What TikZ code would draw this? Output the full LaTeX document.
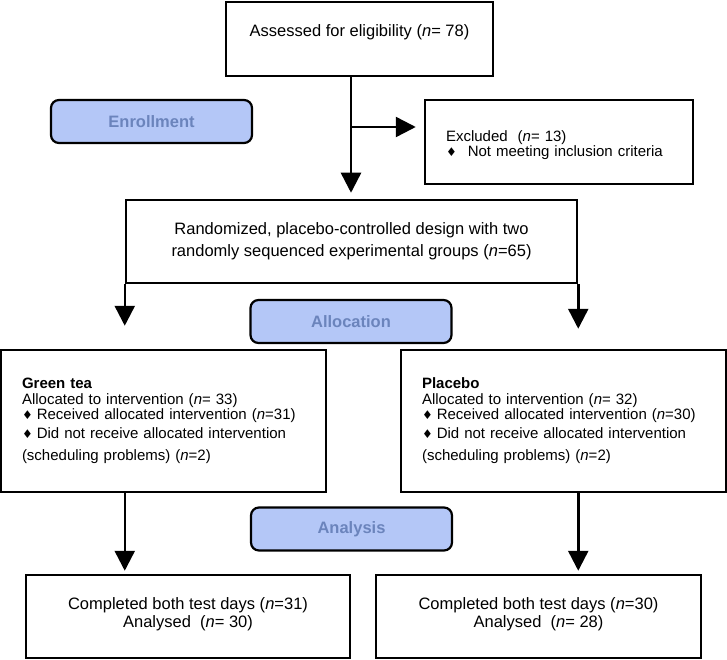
\documentclass[tikz,border=0pt]{standalone}
\usepackage{fontspec}
\setmainfont{Liberation Sans}
\newfontfamily\symfont{DejaVu Sans}
\usepackage{tikz}
\usetikzlibrary{arrows.meta,positioning}
\definecolor{stagefill}{HTML}{B4C7F7}
\definecolor{stagetext}{HTML}{6B84BC}
\newcommand{\dia}{{\symfont\fontsize{12}{12}\selectfont\char"2666}}
\newcommand{\nn}{\textit{n}}
\tikzset{
  box/.style={rectangle,draw=black,line width=2.5pt,inner sep=0pt,
    font=\fontsize{16.5}{22}\selectfont},
  listbox/.style args={#1,#2}{
    box,
    minimum width=#1pt,
    minimum height=#2pt,
    text width=#1pt-42pt,
    align=left,
    font=\fontsize{15}{16}\selectfont
  },
  stage/.style={rectangle,draw=black,line width=2.2pt,rounded corners=8pt,
    fill=stagefill,text=stagetext,font=\bfseries\fontsize{16.5}{18}\selectfont,
    minimum width=201pt,minimum height=43pt},
  ln/.style={line width=2.5pt},
  arr/.style={ln,-{Triangle[length=20pt,width=20pt]}}
}

\begin{document}
\begin{tikzpicture}[x=1pt,y=-1pt]
  \useasboundingbox (0,0) rectangle (727,660);

  % enrollment
  \node [box,minimum width=267pt,minimum height=74pt,text depth=16pt] (assess) at (359.5,39)
    {Assessed for eligibility (\nn= 78)};
  \node [stage] (enrol) at (151.5,121.5) {Enrollment};
  \node [listbox={268,84},font=\fontsize{15}{15}\selectfont,text depth=12pt] (excl) at (559,142)
    {Excluded\ \ (\nn= 13)\\ \dia\hspace{11pt}Not meeting inclusion criteria};
  \node [box,minimum width=451pt,minimum height=83pt,align=center] (random) at (351.5,241.5)
    {Randomized, placebo-controlled design with two\\ randomly sequenced experimental groups (\nn=65)};

  % allocation
  \node [stage] (alloc) at (351,321.5) {Allocation};
  \node [listbox={325,142}] (green) at (163.5,421)
    {\textbf{Green tea}\\ Allocated to intervention (\nn= 33)\\[-1pt]
     \dia\hspace{4pt}Received allocated intervention (\nn=31)\\[3pt]
     \dia\hspace{4pt}Did not receive allocated intervention\\[6pt]
     (scheduling problems) (\nn=2)};
  \node [listbox={325,142}] (plac) at (563.5,421)
    {\textbf{Placebo}\\ Allocated to intervention (\nn= 32)\\[-1pt]
     \dia\hspace{4pt}Received allocated intervention (\nn=30)\\[3pt]
     \dia\hspace{4pt}Did not receive allocated intervention\\[6pt]
     (scheduling problems) (\nn=2)};

  % analysis
  \node [stage] (analys) at (351.5,529) {Analysis};
  \node [box,minimum width=324pt,minimum height=83pt,align=center,
    font=\fontsize{16.5}{18}\selectfont,text depth=8pt] (donegreen) at (188,616.5)
    {Completed both test days (\nn=31)\\ Analysed\ \ (\nn= 30)};
  \node [box,minimum width=325pt,minimum height=83pt,align=center,
    font=\fontsize{16.5}{18}\selectfont,text depth=8pt] (doneplac) at (538.5,616.5)
    {Completed both test days (\nn=30)\\ Analysed\ \ (\nn= 28)};

  \coordinate (split) at (351,127);
  \draw[ln] (assess.south -| split) -- (split);
  \draw[arr,shorten >=8pt] (split) -- (split -| excl.west);
  \draw[arr,shorten >=6pt] (split) -- (split |- random.north);
  \draw[arr,shorten >=23pt] (random.south west) -- (random.south west |- green.north);
  \draw[arr,shorten >=20pt] (random.south east) -- (random.south east |- plac.north);
  \draw[arr,shorten >=3pt] (random.west |- green.south) -- (random.west |- donegreen.north);
  \draw[arr,shorten >=3pt] (random.east |- plac.south) -- (random.east |- doneplac.north);
\end{tikzpicture}
\end{document}
